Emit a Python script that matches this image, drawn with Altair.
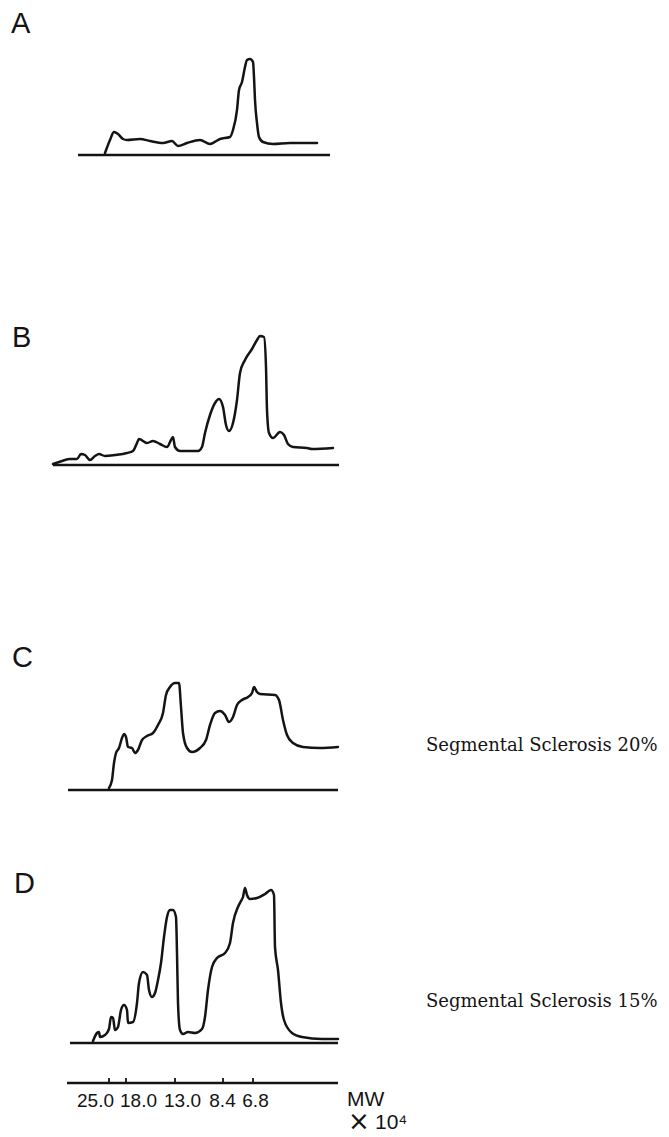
import altair as alt
import pandas as pd

# ---- densitometric traces: position along the scan (shared distance axis) and signal above baseline ----
a_pos = [105, 110, 114, 118, 123, 127, 140, 150, 163, 172, 178, 187, 200, 210, 220, 230, 233, 237, 239, 242,
         245, 247, 250, 253, 254, 255, 257, 259, 263, 273, 290, 307, 317]
a_sig = [2, 15, 23, 21, 16, 15, 16, 14, 12, 14, 9, 12, 15, 11, 16, 18, 25, 45, 65, 73,
         88, 95, 96, 93, 78, 55, 32, 18, 13, 11, 12, 12, 12]

b_pos = [53, 62, 70, 77, 81, 85, 90, 95, 99, 105, 115, 127, 133, 137, 139, 147, 153, 160, 167, 171,
         173, 175, 180, 198, 202, 205, 210, 215, 219, 223, 226, 229, 233, 237, 240, 245, 252, 257, 260, 264,
         266, 267, 269, 273, 280, 284, 288, 293, 307, 312, 333]
b_sig = [1, 4, 6, 6, 11, 10, 5, 9, 11, 9, 10, 12, 14, 22, 26, 22, 24, 21, 18, 25,
         28, 18, 14, 14, 18, 32, 50, 62, 66, 58, 40, 34, 42, 65, 92, 105, 116, 125, 129, 128,
         98, 55, 32, 27, 33, 30, 21, 18, 17, 16, 17]

c_pos = [109, 112, 114, 116, 119, 122, 124, 126, 128, 132, 135, 138, 142, 147, 153, 158, 163, 166, 170, 175,
         179, 181, 183, 187, 192, 200, 206, 210, 215, 220, 225, 229, 233, 237, 242, 248, 252, 254, 257, 260,
         275, 279, 283, 287, 293, 303, 320, 338]
c_sig = [2, 10, 27, 37, 42, 52, 56, 53, 43, 42, 37, 40, 50, 54, 57, 65, 77, 95, 103, 107,
         107, 83, 57, 42, 38, 42, 50, 65, 77, 79, 75, 68, 73, 85, 90, 93, 97, 103, 98, 96,
         95, 90, 70, 55, 47, 43, 42, 43]

d_pos = [93, 97, 99, 100, 105, 109, 111, 113, 115, 118, 121, 124, 127, 128, 133, 137, 139, 143, 147, 149,
         152, 155, 158, 161, 164, 167, 170, 173, 176, 177, 178, 180, 183, 188, 195, 202, 205, 208, 212, 217,
         225, 230, 233, 238, 241, 243, 245, 247, 250, 257, 265, 271, 274, 275, 278, 281, 284, 292, 302, 322, 338]
d_sig = [2, 10, 11, 6, 8, 14, 26, 25, 13, 16, 33, 38, 33, 20, 21, 40, 60, 71, 68, 53,
         46, 50, 63, 80, 106, 126, 133, 133, 126, 90, 40, 13, 9, 11, 10, 14, 26, 53, 76, 85,
         90, 100, 120, 136, 142, 146, 155, 148, 144, 145, 149, 153, 148, 96, 73, 40, 23, 10, 6, 4, 4]

# baselines drawn under each trace (start, end along the scan)
base_a = [78, 330]
base_b = [53, 339]
base_c = [68, 338]
base_d = [70, 338]

# molecular-weight scale under the traces
mw_labels = ["25.0", "18.0", "13.0", "8.4", "6.8"]
mw_pos = [109, 126, 175, 223, 253]
mw_span = [67, 338]

letters = ["A", "B", "C", "D"]
notes = ["Segmental Sclerosis 20%", "Segmental Sclerosis 15%"]

# ---- styling ----
INK = "#141414"
W = 653
XDOM = [8, 661]
xscale = alt.Scale(domain=XDOM)
LETTER_FONT = "Liberation Sans"
NOTE_FONT = "DejaVu Serif"
SANS = "Liberation Sans"


def panel(letter, pos, sig, base, h, lxy, note=None, nxy=None):
    ysc = alt.Scale(domain=[0, h])
    trace = alt.Chart(pd.DataFrame({"pos": pos, "sig": sig})).mark_line(
        interpolate="monotone", color=INK, strokeWidth=2.5, strokeJoin="round", strokeCap="round"
    ).encode(
        x=alt.X("pos:Q", scale=xscale, axis=None),
        y=alt.Y("sig:Q", scale=ysc, axis=None),
    )
    baseline = alt.Chart(pd.DataFrame({"pos": [base[0]], "end": [base[1]], "sig": [0]})).mark_rule(
        color=INK, strokeWidth=2.5
    ).encode(
        x=alt.X("pos:Q", scale=xscale, axis=None),
        x2="end:Q",
        y=alt.Y("sig:Q", scale=ysc, axis=None),
    )
    lab = alt.Chart(pd.DataFrame({"t": [letter]})).mark_text(
        font=LETTER_FONT, fontSize=29, align="left", baseline="alphabetic", color=INK
    ).encode(text="t:N", x=alt.value(lxy[0]), y=alt.value(lxy[1]))
    layers = [baseline, trace, lab]
    if note:
        nt = alt.Chart(pd.DataFrame({"t": [note]})).mark_text(
            font=NOTE_FONT, fontSize=18, align="left", baseline="alphabetic", color=INK
        ).encode(text="t:N", x=alt.value(nxy[0]), y=alt.value(nxy[1]))
        layers.append(nt)
    return alt.layer(*layers).properties(width=W, height=h)


pA = panel(letters[0], a_pos, a_sig, base_a, 147, (3, 25))
pB = panel(letters[1], b_pos, b_sig, base_b, 310, (4, 192))
pC = panel(letters[2], c_pos, c_sig, base_c, 325, (4, 202), notes[0], (418, 286))
pD = panel(letters[3], d_pos, d_sig, base_d, 253, (6, 103), notes[1], (418, 217))

# ---- MW axis panel ----
AX_H = 40
ysc_ax = alt.Scale(domain=[0, AX_H])
label_expr = " : ".join(f"datum.value == {p} ? '{l}'" for p, l in zip(mw_pos, mw_labels)) + " : ''"
nudge = [-14, 12, 7, -1, 2]
xaxis = alt.Axis(
    title=None, values=mw_pos, labelExpr=label_expr, domain=False, ticks=False, tickSize=0, grid=False,
    labelFont=SANS, labelFontSize=19, labelColor=INK, labelPadding=23, labelBaseline="alphabetic",
    labelOverlap=False, labelFlush=False, labelBound=False,
    labelOffset={"condition": [{"test": f"datum.value == {p}", "value": n} for p, n in zip(mw_pos, nudge)],
                 "value": 0},
)
ax_line = alt.Chart(pd.DataFrame({"pos": [mw_span[0]], "end": [mw_span[1]], "sig": [0]})).mark_rule(
    color=INK, strokeWidth=2.5
).encode(
    x=alt.X("pos:Q", scale=xscale, axis=xaxis),
    x2="end:Q",
    y=alt.Y("sig:Q", scale=ysc_ax, axis=None),
)
ax_ticks = alt.Chart(pd.DataFrame({"pos": mw_pos, "sig": [0] * len(mw_pos)})).mark_rule(
    color=INK, strokeWidth=1.8
).encode(
    x=alt.X("pos:Q", scale=xscale, axis=xaxis),
    y=alt.Y("sig:Q", scale=ysc_ax, axis=None),
    y2=alt.value(AX_H - 5),
)
mw_txt = alt.Chart(pd.DataFrame({"t": ["MW"]})).mark_text(
    font=SANS, fontSize=21, align="left", baseline="alphabetic", color=INK
).encode(text="t:N", x=alt.value(339), y=alt.value(63))
times_txt = alt.Chart(pd.DataFrame({"t": ["×"]})).mark_text(
    font="DejaVu Sans", fontSize=26, align="left", baseline="alphabetic", color=INK
).encode(text="t:N", x=alt.value(340), y=alt.value(87))
unit_txt = alt.Chart(pd.DataFrame({"t": ["10⁴"]})).mark_text(
    font=SANS, fontSize=21, align="left", baseline="alphabetic", color=INK
).encode(text="t:N", x=alt.value(367), y=alt.value(86))

pAx = alt.layer(ax_line, ax_ticks, mw_txt, times_txt, unit_txt).properties(width=W, height=AX_H)

chart = alt.vconcat(pA, pB, pC, pD, pAx, spacing=0, bounds="flush").properties(
    padding={"left": 0, "top": 0, "right": 0, "bottom": 30}, background="white"
).configure_view(stroke=None)

chart.save("out.html", embed_options={"renderer": "svg", "actions": False})
